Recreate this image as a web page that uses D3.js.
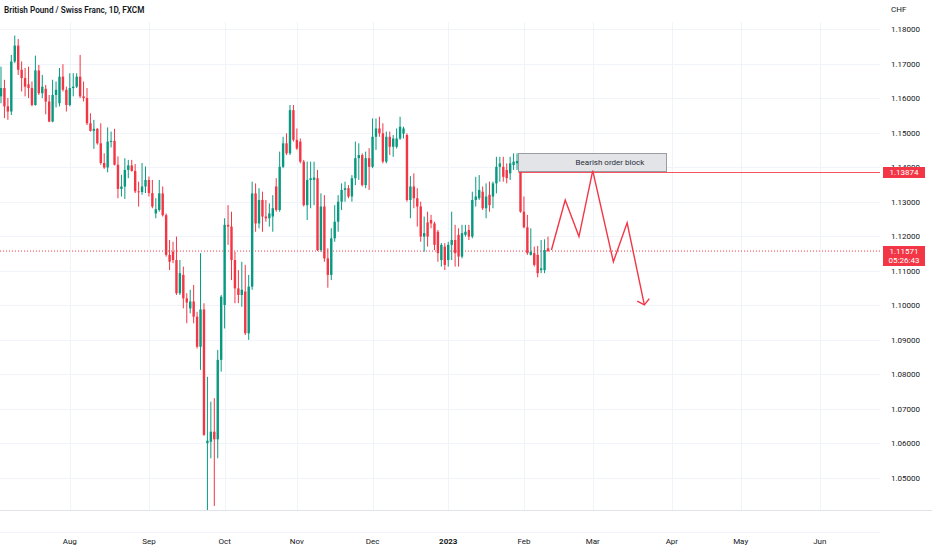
<!DOCTYPE html>
<html>
<head>
<meta charset="utf-8">
<script src="https://cdn.jsdelivr.net/npm/d3@7"></script>
<style>
  body { margin: 0; background: #fff; }
  text { font-family: Roboto, "Noto Sans", sans-serif; }
</style>
</head>
<body>
<div id="chart"></div>
<script>
// GBPCHF daily candles, first bar Mon 4 Jul 2022, one bar per weekday
const firstDay = new Date(2022, 6, 4);

const opens = [
  1.1605, 1.1629, 1.1576, 1.1561, 1.1706, 1.1752, 1.1682, 1.1658, 1.1640, 1.1629,
  1.1580, 1.1680, 1.1614, 1.1627, 1.1590, 1.1532, 1.1609, 1.1585, 1.1662, 1.1624,
  1.1580, 1.1629, 1.1633, 1.1662, 1.1605, 1.1600, 1.1527, 1.1505, 1.1511, 1.1469,
  1.1412, 1.1399, 1.1474, 1.1476, 1.1407, 1.1337, 1.1344, 1.1392, 1.1405, 1.1389,
  1.1330, 1.1328, 1.1344, 1.1363, 1.1325, 1.1266, 1.1276, 1.1324, 1.1261, 1.1146,
  1.1155, 1.1131, 1.1035, 1.1088, 1.1020, 1.0991, 1.1011, 1.0967, 1.0880, 1.0988,
  1.0601, 1.0605, 1.0634, 1.0612, 1.0842, 1.1001, 1.1233, 1.1228, 1.1131, 1.1049,
  1.1030, 1.1040, 1.0919, 1.1054, 1.1324, 1.1237, 1.1305, 1.1257, 1.1252, 1.1257,
  1.1344, 1.1276, 1.1401, 1.1469, 1.1440, 1.1565, 1.1479, 1.1474, 1.1416, 1.1290,
  1.1363, 1.1363, 1.1368, 1.1160, 1.1286, 1.1136, 1.1088, 1.1194, 1.1242, 1.1300,
  1.1334, 1.1339, 1.1315, 1.1368, 1.1426, 1.1435, 1.1348, 1.1426, 1.1401, 1.1488,
  1.1512, 1.1498, 1.1416, 1.1488, 1.1459, 1.1459, 1.1483, 1.1497, 1.1493, 1.1305,
  1.1344, 1.1310, 1.1286, 1.1199, 1.1240, 1.1247, 1.1237, 1.1213, 1.1131, 1.1170,
  1.1131, 1.1175, 1.1189, 1.1204, 1.1141, 1.1204, 1.1218, 1.1199, 1.1305, 1.1310,
  1.1329, 1.1281, 1.1320, 1.1315, 1.1353, 1.1401, 1.1401, 1.1392, 1.1382, 1.1406,
  1.1411, 1.1418, 1.1271, 1.1226, 1.1146, 1.1151, 1.1146, 1.1102, 1.1102, 1.1165
];
const highs = [
  1.1691, 1.1653, 1.1600, 1.1725, 1.1781, 1.1771, 1.1706, 1.1687, 1.1691, 1.1648,
  1.1723, 1.1696, 1.1667, 1.1638, 1.1609, 1.1653, 1.1648, 1.1687, 1.1698, 1.1633,
  1.1672, 1.1672, 1.1672, 1.1725, 1.1648, 1.1629, 1.1556, 1.1537, 1.1513, 1.1527,
  1.1440, 1.1515, 1.1503, 1.1511, 1.1431, 1.1378, 1.1426, 1.1421, 1.1421, 1.1409,
  1.1358, 1.1412, 1.1402, 1.1373, 1.1363, 1.1310, 1.1363, 1.1344, 1.1266, 1.1189,
  1.1184, 1.1199, 1.1131, 1.1112, 1.1035, 1.1045, 1.1059, 1.0981, 1.1151, 1.1006,
  1.0793, 1.0721, 1.0731, 1.0871, 1.1030, 1.1252, 1.1290, 1.1271, 1.1155, 1.1102,
  1.1126, 1.1117, 1.1088, 1.1358, 1.1353, 1.1339, 1.1329, 1.1305, 1.1295, 1.1319,
  1.1368, 1.1445, 1.1488, 1.1498, 1.1580, 1.1580, 1.1512, 1.1483, 1.1421, 1.1416,
  1.1416, 1.1416, 1.1392, 1.1324, 1.1319, 1.1165, 1.1223, 1.1290, 1.1319, 1.1353,
  1.1358, 1.1348, 1.1377, 1.1474, 1.1469, 1.1440, 1.1445, 1.1455, 1.1541, 1.1541,
  1.1546, 1.1527, 1.1503, 1.1503, 1.1493, 1.1512, 1.1546, 1.1517, 1.1498, 1.1374,
  1.1382, 1.1339, 1.1300, 1.1257, 1.1271, 1.1262, 1.1242, 1.1218, 1.1180, 1.1180,
  1.1184, 1.1271, 1.1233, 1.1223, 1.1233, 1.1233, 1.1233, 1.1329, 1.1372, 1.1377,
  1.1344, 1.1353, 1.1358, 1.1358, 1.1430, 1.1430, 1.1430, 1.1411, 1.1430, 1.1440,
  1.1440, 1.1440, 1.1315, 1.1262, 1.1223, 1.1170, 1.1172, 1.1189, 1.1191, 1.1199
];
const lows = [
  1.1585, 1.1542, 1.1537, 1.1551, 1.1701, 1.1667, 1.1619, 1.1605, 1.1600, 1.1576,
  1.1578, 1.1609, 1.1600, 1.1553, 1.1530, 1.1530, 1.1573, 1.1576, 1.1619, 1.1561,
  1.1576, 1.1605, 1.1629, 1.1600, 1.1590, 1.1522, 1.1503, 1.1453, 1.1465, 1.1407,
  1.1395, 1.1385, 1.1457, 1.1405, 1.1310, 1.1315, 1.1308, 1.1368, 1.1387, 1.1325,
  1.1286, 1.1320, 1.1325, 1.1315, 1.1281, 1.1252, 1.1271, 1.1257, 1.1141, 1.1102,
  1.1122, 1.1030, 1.1030, 1.0991, 1.0948, 1.0977, 1.0948, 1.0875, 1.0813, 1.0622,
  1.0390, 1.0557, 1.0419, 1.0557, 1.0808, 1.0933, 1.1175, 1.1073, 1.1006, 1.1006,
  1.0996, 1.0914, 1.0900, 1.1045, 1.1213, 1.1223, 1.1213, 1.1242, 1.1228, 1.1213,
  1.1271, 1.1271, 1.1397, 1.1435, 1.1435, 1.1474, 1.1450, 1.1411, 1.1286, 1.1247,
  1.1281, 1.1290, 1.1157, 1.1155, 1.1126, 1.1051, 1.1073, 1.1184, 1.1213, 1.1276,
  1.1300, 1.1310, 1.1300, 1.1348, 1.1363, 1.1344, 1.1339, 1.1334, 1.1397, 1.1450,
  1.1488, 1.1411, 1.1411, 1.1435, 1.1430, 1.1454, 1.1479, 1.1483, 1.1300, 1.1252,
  1.1281, 1.1228, 1.1184, 1.1155, 1.1170, 1.1223, 1.1160, 1.1126, 1.1112, 1.1102,
  1.1112, 1.1131, 1.1112, 1.1112, 1.1136, 1.1199, 1.1189, 1.1194, 1.1286, 1.1305,
  1.1276, 1.1252, 1.1271, 1.1281, 1.1324, 1.1358, 1.1358, 1.1353, 1.1363, 1.1392,
  1.1392, 1.1268, 1.1223, 1.1146, 1.1144, 1.1112, 1.1081, 1.1093, 1.1093, 1.1155
];
const closes = [
  1.1629, 1.1576, 1.1561, 1.1706, 1.1752, 1.1682, 1.1658, 1.1633, 1.1629, 1.1580,
  1.1680, 1.1614, 1.1633, 1.1590, 1.1532, 1.1609, 1.1624, 1.1662, 1.1624, 1.1580,
  1.1629, 1.1633, 1.1662, 1.1605, 1.1600, 1.1527, 1.1505, 1.1511, 1.1469, 1.1412,
  1.1399, 1.1474, 1.1476, 1.1407, 1.1337, 1.1344, 1.1392, 1.1405, 1.1389, 1.1330,
  1.1328, 1.1344, 1.1363, 1.1325, 1.1286, 1.1278, 1.1324, 1.1261, 1.1146, 1.1126,
  1.1131, 1.1035, 1.1093, 1.1020, 1.1008, 1.1011, 1.0967, 1.0880, 1.0988, 1.0625,
  1.0608, 1.0634, 1.0612, 1.0842, 1.1025, 1.1233, 1.1228, 1.1131, 1.1049, 1.1030,
  1.1045, 1.0919, 1.1054, 1.1324, 1.1237, 1.1305, 1.1257, 1.1252, 1.1266, 1.1281,
  1.1276, 1.1401, 1.1469, 1.1440, 1.1565, 1.1479, 1.1454, 1.1416, 1.1290, 1.1363,
  1.1368, 1.1370, 1.1160, 1.1286, 1.1136, 1.1088, 1.1194, 1.1242, 1.1300, 1.1334,
  1.1339, 1.1315, 1.1368, 1.1426, 1.1435, 1.1348, 1.1426, 1.1401, 1.1488, 1.1512,
  1.1498, 1.1416, 1.1488, 1.1459, 1.1483, 1.1483, 1.1517, 1.1512, 1.1305, 1.1344,
  1.1310, 1.1286, 1.1199, 1.1209, 1.1199, 1.1237, 1.1175, 1.1151, 1.1175, 1.1117,
  1.1175, 1.1189, 1.1151, 1.1141, 1.1209, 1.1213, 1.1199, 1.1305, 1.1315, 1.1334,
  1.1281, 1.1315, 1.1290, 1.1353, 1.1401, 1.1411, 1.1372, 1.1368, 1.1411, 1.1416,
  1.1418, 1.1271, 1.1226, 1.1151, 1.1155, 1.1117, 1.1093, 1.1107, 1.1160, 1.11571
];

const priceTicks = [1.05, 1.06, 1.07, 1.08, 1.09, 1.10, 1.11, 1.12, 1.13, 1.14, 1.15, 1.16, 1.17, 1.18];
const monthNames = ["Aug", "Sep", "Oct", "Nov", "Dec", "2023", "Feb", "Mar", "Apr", "May", "Jun"];

// drawing: order block and projected path (bar index, price)
const blockBars = [150.3, 193.2];
const blockPrices = [1.1440, 1.13874];
const blockLabel = "Bearish order block";
const projBars = [160, 164, 168, 172, 178, 182, 187];
const projPrices = [1.1160, 1.1305, 1.1199, 1.1390, 1.1126, 1.1239, 1.1001];
const lastPrice = 1.11571;
const countdown = "05:26:43";

const W = 932, H = 550;
const plotRight = 880, plotBottom = 510;
const up = "#089981", down = "#f23645";

// weekday calendar for the time axis
const days = d3.timeDay.range(firstDay, new Date(2023, 6, 1)).filter(d => d.getDay() !== 0 && d.getDay() !== 6);
const monthStarts = days.map((d, i) => i).filter(i => i > 0 && days[i].getMonth() !== days[i - 1].getMonth());

const x = d3.scaleLinear().domain([-0.29, 255.5]).range([0, plotRight]);
const y = d3.scaleLinear().domain([1.05, 1.18]).range([478, 29]);
const crisp = v => Math.round(v) + 0.5;

const svg = d3.select("#chart").append("svg")
  .attr("width", W).attr("height", H)
  .style("background", "#fff");

svg.append("defs").append("clipPath").attr("id", "plot")
  .append("rect").attr("x", 0).attr("y", 0).attr("width", plotRight).attr("height", plotBottom);

// grid
const grid = svg.append("g").attr("shape-rendering", "crispEdges");
grid.selectAll(".hg").data(priceTicks).join("line")
  .attr("x1", 0).attr("x2", plotRight)
  .attr("y1", d => crisp(y(d))).attr("y2", d => crisp(y(d)))
  .attr("stroke", "#f0f3fa");
grid.selectAll(".vg").data(monthStarts.slice(0, monthNames.length)).join("line")
  .attr("x1", d => crisp(x(d))).attr("x2", d => crisp(x(d)))
  .attr("y1", 22).attr("y2", plotBottom)
  .attr("stroke", "#f0f3fa");
grid.append("line").attr("x1", 0).attr("x2", W).attr("y1", plotBottom + 0.5).attr("y2", plotBottom + 0.5)
  .attr("stroke", "#e0e3eb");
grid.append("line").attr("x1", 0).attr("x2", plotRight).attr("y1", 532.5).attr("y2", 532.5)
  .attr("stroke", "#f0f3fa");

const plot = svg.append("g").attr("clip-path", "url(#plot)");

// current price line
plot.append("line")
  .attr("x1", 0).attr("x2", plotRight)
  .attr("y1", y(lastPrice)).attr("y2", y(lastPrice))
  .attr("stroke", down).attr("stroke-dasharray", "1,2").attr("stroke-width", 1);

// candles
const bars = d3.range(opens.length);
const candle = plot.append("g").selectAll("g").data(bars).join("g")
  .attr("color", i => closes[i] >= opens[i] ? up : down);
candle.append("line")
  .attr("x1", i => x(i)).attr("x2", i => x(i))
  .attr("y1", i => y(highs[i])).attr("y2", i => y(lows[i]))
  .attr("stroke", "currentColor").attr("stroke-width", 1);
candle.append("rect")
  .attr("x", i => x(i) - 1.2).attr("width", 2.4)
  .attr("y", i => y(Math.max(opens[i], closes[i])))
  .attr("height", i => Math.max(1, Math.abs(y(opens[i]) - y(closes[i]))))
  .attr("fill", "currentColor");

// order block
plot.append("rect")
  .attr("x", crisp(x(blockBars[0]))).attr("width", Math.round(x(blockBars[1]) - x(blockBars[0])))
  .attr("y", crisp(y(blockPrices[0]))).attr("height", Math.round(y(blockPrices[1]) - y(blockPrices[0])))
  .attr("fill", "#e3e4e8").attr("stroke", "#9a9ca3").attr("stroke-width", 1);
plot.append("text")
  .attr("x", x(177)).attr("y", (y(blockPrices[0]) + y(blockPrices[1])) / 2 + 3)
  .attr("text-anchor", "middle").attr("font-size", 8).attr("fill", "#2a2e39")
  .text(blockLabel);
plot.append("line")
  .attr("x1", crisp(x(blockBars[0]))).attr("x2", plotRight + 3)
  .attr("y1", crisp(y(blockPrices[1]))).attr("y2", crisp(y(blockPrices[1])))
  .attr("stroke", "#f23645").attr("stroke-opacity", 0.85).attr("stroke-width", 1);

// projected path with arrow head
const pts = projBars.map((b, i) => [x(b), y(projPrices[i])]);
plot.append("path")
  .attr("d", d3.line()(pts))
  .attr("fill", "none").attr("stroke", down).attr("stroke-width", 1.4)
  .attr("stroke-linejoin", "miter");
const tip = pts[pts.length - 1], prev = pts[pts.length - 2];
const ang = Math.atan2(prev[1] - tip[1], prev[0] - tip[0]);
const headLen = 8, spread = 50 * Math.PI / 180;
plot.append("path")
  .attr("d", d3.line()([
    [tip[0] + headLen * Math.cos(ang - spread), tip[1] + headLen * Math.sin(ang - spread)],
    tip,
    [tip[0] + headLen * Math.cos(ang + spread), tip[1] + headLen * Math.sin(ang + spread)]
  ]))
  .attr("fill", "none").attr("stroke", down).attr("stroke-width", 1.4);

// header
svg.append("text").attr("x", 4).attr("y", 13)
  .attr("font-size", 8.2).attr("font-weight", 600).attr("fill", "#131722")
  .text("British Pound / Swiss Franc, 1D, FXCM");

// price axis (the 1.14000 label sits under the order-block tag, as in TradingView)
const axisY = svg.append("g");
axisY.append("text").attr("x", 891).attr("y", 12).attr("font-size", 8).attr("fill", "#131722").text("CHF");
axisY.selectAll(".pl").data(priceTicks).join("text")
  .attr("x", 891).attr("y", d => y(d) + 3)
  .attr("font-size", 8).attr("fill", "#131722")
  .text(d => d.toFixed(5));

// time axis
svg.append("g").selectAll("text").data(monthStarts.slice(0, monthNames.length)).join("text")
  .attr("x", d => x(d)).attr("y", 544)
  .attr("text-anchor", "middle").attr("font-size", 8)
  .attr("font-weight", (d, i) => monthNames[i] === "2023" ? 700 : 400)
  .attr("fill", "#131722")
  .text((d, i) => monthNames[i]);

// price labels on the axis
const tags = svg.append("g");
tags.append("rect").attr("x", 883).attr("y", Math.round(y(blockPrices[1])) - 5).attr("width", 42).attr("height", 11)
  .attr("fill", down);
tags.append("text").attr("x", 904).attr("y", y(blockPrices[1]) + 3)
  .attr("text-anchor", "middle").attr("font-size", 8).attr("fill", "#fff")
  .text(blockPrices[1].toFixed(5));
tags.append("rect").attr("x", 883).attr("y", Math.round(y(lastPrice)) - 5).attr("width", 42).attr("height", 20)
  .attr("fill", down);
tags.append("text").attr("x", 904).attr("y", y(lastPrice) + 3)
  .attr("text-anchor", "middle").attr("font-size", 8).attr("fill", "#fff")
  .text(lastPrice.toFixed(5));
tags.append("text").attr("x", 904).attr("y", y(lastPrice) + 12)
  .attr("text-anchor", "middle").attr("font-size", 8).attr("fill", "#fff")
  .text(countdown);
</script>
</body>
</html>
